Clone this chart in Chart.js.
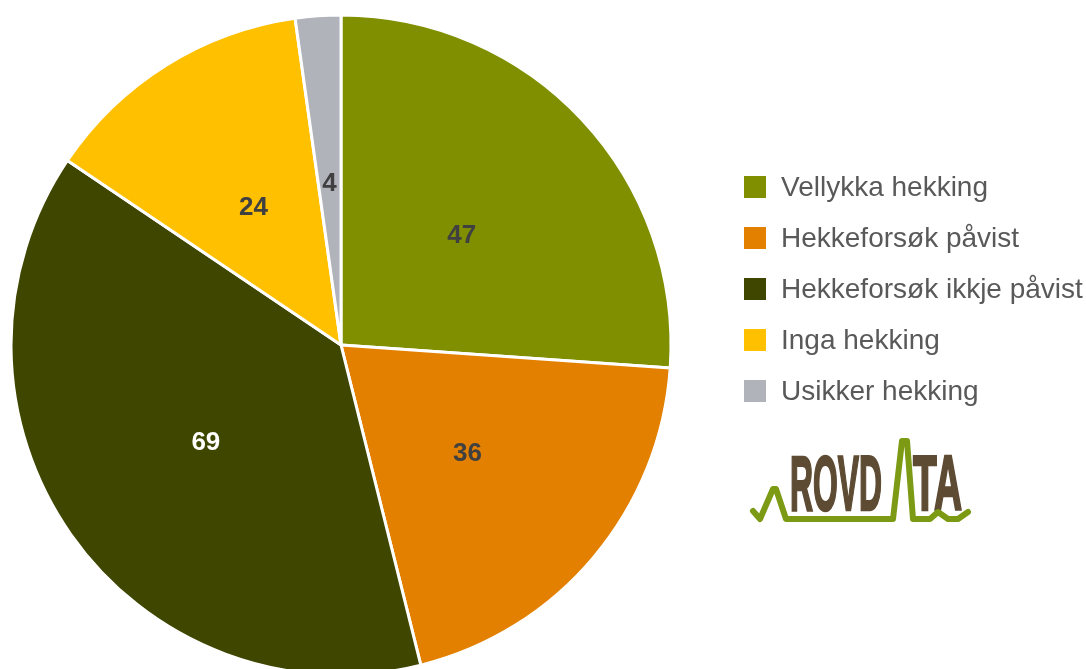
<!DOCTYPE html>
<html>
<head>
<meta charset="utf-8">
<script src="https://cdn.jsdelivr.net/npm/chart.js@4/dist/chart.umd.min.js"></script>
<style>
html,body{margin:0;padding:0;background:#fff;overflow:hidden;}
canvas{display:block;}
</style>
</head>
<body>
<canvas id="c" width="1086" height="669"></canvas>
<script>
const categories = ["Vellykka hekking", "Hekkeforsøk påvist", "Hekkeforsøk ikkje påvist", "Inga hekking", "Usikker hekking"];
const values = [47, 36, 69, 24, 4];
const colors = ["#7F8F00", "#E38000", "#3F4600", "#FFC000", "#B1B3BA"];
const labelColors = ["#404040", "#404040", "#FFFFFF", "#404040", "#404040"];
const logoText = ["ROVD", "TA"];

const FONT = "'Liberation Sans', Arial, sans-serif";

const labelPlugin = {
  id: 'sliceLabels',
  afterDatasetsDraw(chart) {
    const ctx = chart.ctx;
    const meta = chart.getDatasetMeta(0);
    ctx.save();
    ctx.font = "bold 26px " + FONT;
    ctx.textAlign = 'center';
    ctx.textBaseline = 'middle';
    meta.data.forEach((arc, i) => {
      const p = arc.getProps(['x','y','startAngle','endAngle','outerRadius'], true);
      const mid = (p.startAngle + p.endAngle) / 2;
      const r = p.outerRadius * 0.5;
      ctx.fillStyle = labelColors[i];
      ctx.fillText(String(values[i]), p.x + Math.cos(mid) * r, p.y + Math.sin(mid) * r + 3);
    });
    ctx.restore();
  }
};

const legendPlugin = {
  id: 'sideLegend',
  afterDraw(chart) {
    const ctx = chart.ctx;
    ctx.save();
    ctx.font = "28px " + FONT;
    ctx.textBaseline = 'middle';
    ctx.textAlign = 'left';
    categories.forEach((c, i) => {
      const cy = 187 + i * 51;
      ctx.fillStyle = colors[i];
      ctx.fillRect(744, cy - 11, 22, 22);
      ctx.fillStyle = '#595959';
      ctx.fillText(c, 781, cy + 1);
    });
    ctx.restore();
  }
};

const logoPlugin = {
  id: 'logo',
  afterDraw(chart) {
    const ctx = chart.ctx;
    ctx.save();
    ctx.fillStyle = '#5E4B33';
    ctx.strokeStyle = '#5E4B33';
    ctx.lineWidth = 2.5;
    ctx.lineJoin = 'miter';
    ctx.font = "bold 78px " + FONT;
    ctx.textBaseline = 'alphabetic';
    const drawFit = (t, x0, x1, base) => {
      const w = ctx.measureText(t).width;
      ctx.save();
      ctx.translate(x0, base);
      ctx.scale((x1 - x0) / w, 1);
      ctx.fillText(t, 0, 0);
      ctx.strokeText(t, 0, 0);
      ctx.restore();
    };
    drawFit(logoText[0], 790, 882, 510);
    drawFit(logoText[1], 913, 962, 510);
    ctx.strokeStyle = '#7C9A13';
    ctx.lineWidth = 6;
    ctx.lineJoin = 'round';
    ctx.lineCap = 'round';
    ctx.beginPath();
    const pts = [[753,511],[760,519],[773,489],[776,489],[786,519],[893,519],[902,441],[907,441],[913,519],[930,519],[938,512],[948,519],[958,519],[968,512]];
    pts.forEach((p, i) => i ? ctx.lineTo(p[0], p[1]) : ctx.moveTo(p[0], p[1]));
    ctx.stroke();
    ctx.restore();
  }
};

new Chart(document.getElementById('c'), {
  type: 'pie',
  data: {
    labels: categories,
    datasets: [{
      data: values,
      backgroundColor: colors,
      borderColor: '#FFFFFF',
      borderWidth: 3,
      clip: false
    }]
  },
  options: {
    responsive: false,
    animation: false,
    radius: 330,
    layout: { padding: { left: 11, right: 415, top: 24, bottom: 3 } },
    plugins: {
      legend: { display: false },
      tooltip: { enabled: false }
    }
  },
  plugins: [labelPlugin, legendPlugin, logoPlugin]
});
</script>
</body>
</html>
